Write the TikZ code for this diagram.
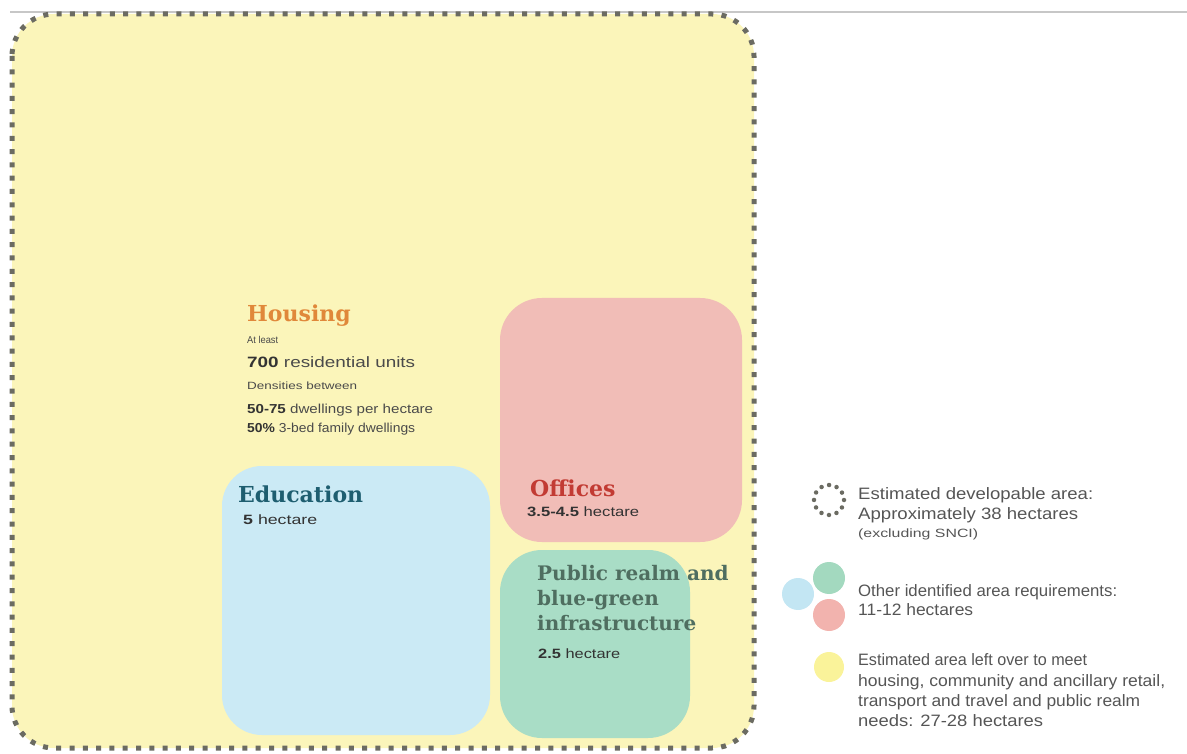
\documentclass[tikz,border=0pt]{standalone}
\usepackage{fontspec}
\setmainfont{Liberation Sans}
\newfontfamily\ttlfont{DejaVu Serif}
\usepackage{graphicx}
\newcommand{\fw}[2]{\resizebox{#1}{\height}{#2}}
\definecolor{yel}{HTML}{FBF5BA}
\definecolor{pinkbox}{HTML}{F1BDB7}
\definecolor{bluebox}{HTML}{CBEAF5}
\definecolor{greenbox}{HTML}{A9DDC6}
\definecolor{dotgray}{HTML}{6B6B62}
\definecolor{housingc}{HTML}{E0883A}
\definecolor{educc}{HTML}{1E5E70}
\definecolor{officec}{HTML}{C23B33}
\definecolor{publicc}{HTML}{4F6E60}
\definecolor{darktxt}{HTML}{333333}
\definecolor{midtxt}{HTML}{4A4A4A}
\definecolor{legtxt}{HTML}{555555}
\definecolor{legyel}{HTML}{FAF39A}
\definecolor{legblue}{HTML}{C3E6F3}
\definecolor{leggreen}{HTML}{A3D9BF}
\definecolor{legpink}{HTML}{F2B3AE}
\begin{document}
\begin{tikzpicture}[x=1pt,y=-1pt,
  ttl/.style={anchor=base west, inner sep=0pt, font=\ttlfont\bfseries\fontsize{22}{26}\selectfont},
  htxt/.style={anchor=base west, inner sep=0pt, text=midtxt},
  leg/.style={anchor=base west, inner sep=0pt, text=legtxt, font=\fontsize{16.5}{19}\selectfont},
  legsmall/.style={anchor=base west, inner sep=0pt, text=legtxt, font=\fontsize{12}{14}\selectfont},
  box/.style={rounded corners=42pt}
]
\useasboundingbox (0,0) rectangle (1187,754);
% top rule
\draw[black!22, line width=1.2pt] (10,12) -- (1187,12);
% outer developable area
\fill[yel, box] (12,14) rectangle (754,748);
\draw[dotgray, line width=5pt, dash pattern=on 5pt off 8.3pt, box] (12,14) rectangle (754,748);
% inner boxes
\fill[pinkbox, box] (500,298) rectangle (742,542);
\fill[bluebox, rounded corners=40pt] (222,466) rectangle (490,735);
\fill[greenbox, box] (500,550) rectangle (690,738);

% Housing
\node[ttl, text=housingc] (hous) at (247,322) {Housing};
\node[htxt, font=\fontsize{10}{11}\selectfont] (least) at (247,343) {\fw{31pt}{At least}};
\node[htxt, font=\fontsize{15}{17}\selectfont] (units) at (247,367) {\fw{168pt}{\textcolor{darktxt}{\bfseries 700} residential units}};
\node[htxt, font=\fontsize{10.5}{12}\selectfont] (dens) at (247,389) {\fw{110pt}{Densities between}};
\node[htxt, font=\fontsize{13}{15}\selectfont] (dw) at (247,413) {\fw{186pt}{\textcolor{darktxt}{\bfseries 50-75} dwellings per hectare}};
\node[htxt, font=\fontsize{13}{15}\selectfont] (fam) at (247,432) {\fw{168pt}{\textcolor{darktxt}{\bfseries 50\%} 3-bed family dwellings}};

% Education
\node[ttl, text=educc] (edu) at (238,502) {Education};
\node[htxt, text=darktxt, font=\fontsize{13.5}{15}\selectfont] (eduha) at (243,524) {\fw{74pt}{\textbf{5} hectare}};

% Offices
\node[ttl, text=officec] (off) at (530,496) {Offices};
\node[htxt, text=darktxt, font=\fontsize{13.5}{15}\selectfont] (offha) at (527,516) {\fw{112pt}{\textbf{3.5-4.5} hectare}};

% Public realm
\node[ttl, text=publicc, font=\ttlfont\bfseries\fontsize{20}{24}\selectfont] (pub1) at (537,580) {Public realm and};
\node[ttl, text=publicc, font=\ttlfont\bfseries\fontsize{20}{24}\selectfont] (pub2) at (537,605) {blue-green};
\node[ttl, text=publicc, font=\ttlfont\bfseries\fontsize{20}{24}\selectfont] (pub3) at (537,630) {infrastructure};
\node[htxt, text=darktxt, font=\fontsize{13.5}{15}\selectfont] (pubha) at (538,658) {\fw{82pt}{\textbf{2.5} hectare}};

% Legend symbols
\draw[dotgray, line width=4.5pt, line cap=round, dash pattern=on 0pt off 7.85pt] (829,500) circle[radius=15];
\fill[leggreen] (829,578) circle[radius=16];
\fill[legblue] (798,594) circle[radius=16];
\fill[legpink] (829,615) circle[radius=16];
\fill[legyel] (829,667) circle[radius=15];

% Legend texts
\node[leg] (l1a) at (858,499) {\fw{235pt}{Estimated developable area:}};
\node[leg] (l1b) at (858,519) {\fw{220pt}{Approximately 38 hectares}};
\node[legsmall] (l1c) at (858,537) {\fw{120pt}{(excluding SNCI)}};
\node[leg] (l2a) at (858,596) {\fw{259pt}{Other identified area requirements:}};
\node[leg] (l2b) at (858,615) {\fw{115pt}{11-12 hectares}};
\node[leg] (l3a) at (858,665) {\fw{229pt}{Estimated area left over to meet}};
\node[leg] (l3b) at (858,686) {\fw{307pt}{housing, community and ancillary retail,}};
\node[leg] (l3c) at (858,706) {\fw{282pt}{transport and travel and public realm}};
\node[leg] (l3d) at (858,726) {\fw{185pt}{needs: 27-28 hectares}};
\end{tikzpicture}
\end{document}
